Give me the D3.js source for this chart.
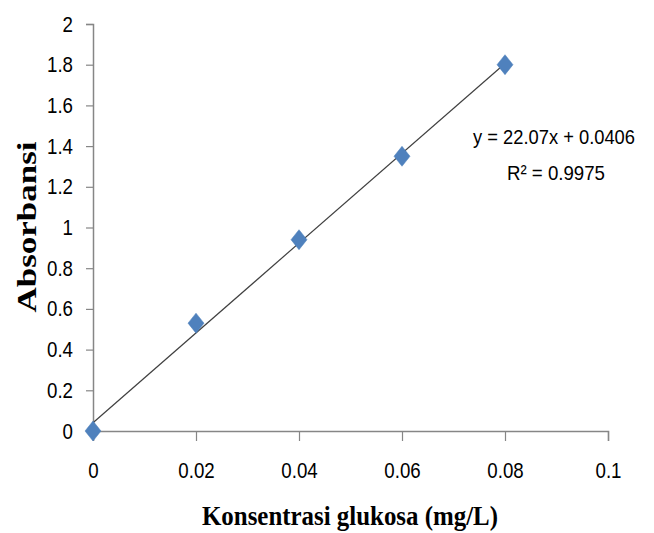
<!DOCTYPE html>
<html><head><meta charset="utf-8">
<script src="https://cdn.jsdelivr.net/npm/d3@7"></script>
<style>
body{margin:0;background:#fff;}
svg{display:block;}
.tick text{font-family:"Liberation Sans",Arimo,sans-serif;font-size:22px;fill:#000;}
</style></head><body>
<svg id="c" width="654" height="533"></svg>
<script>
const xValues = [0, 0.02, 0.04, 0.06, 0.08];
const yValues = [0, 0.53, 0.94, 1.35, 1.80];
const xTicks = [0, 0.02, 0.04, 0.06, 0.08, 0.1];
const yTicks = [0, 0.2, 0.4, 0.6, 0.8, 1, 1.2, 1.4, 1.6, 1.8, 2];
const slope = 22.07, intercept = 0.0406;
const eqText = "y = 22.07x + 0.0406";
const r2Text = "R\u00B2 = 0.9975";
const xTitle = "Konsentrasi glukosa (mg/L)";
const yTitle = "Absorbansi";

const svg = d3.select("#c");
const x = d3.scaleLinear().domain([0, 0.1]).range([93, 608]);
const y = d3.scaleLinear().domain([0, 2]).range([431, 24]);
const axisColor = "#868686";
const condense = 0.85;
function squeeze(sel) {
  sel.each(function() {
    const w = this.getComputedTextLength();
    d3.select(this).attr("textLength", w * condense).attr("lengthAdjust", "spacingAndGlyphs");
  });
}

const gx = svg.append("g").attr("transform", `translate(0,${y(0)})`)
  .call(d3.axisBottom(x).tickValues(xTicks).tickSize(10).tickFormat(d => String(+d.toFixed(2))));
const gy = svg.append("g").attr("transform", `translate(${x(0)},0)`)
  .call(d3.axisLeft(y).tickValues(yTicks).tickSize(7).tickPadding(13).tickFormat(d => String(+d.toFixed(1))));
[gx, gy].forEach(g => {
  g.select(".domain").attr("stroke", axisColor).attr("stroke-width", 1.5);
  g.selectAll(".tick line").attr("stroke", axisColor).attr("stroke-width", 1.2);
});
gx.selectAll(".tick text").attr("y", 47).attr("dy", 0);
squeeze(gx.selectAll(".tick text"));
squeeze(gy.selectAll(".tick text"));

// trendline
svg.append("line")
  .attr("x1", x(0)).attr("y1", y(intercept))
  .attr("x2", x(d3.max(xValues))).attr("y2", y(slope * d3.max(xValues) + intercept))
  .attr("stroke", "#404040").attr("stroke-width", 1.2);

// markers
const pts = xValues.map((v, i) => [v, yValues[i]]);
svg.selectAll("path.m").data(pts).enter().append("path")
  .attr("class", "m")
  .attr("d", "M0,-10 L8,0 L0,10 L-8,0 Z")
  .attr("transform", d => `translate(${x(d[0])},${y(d[1])})`)
  .attr("fill", "#4F81BD").attr("stroke", "#4A7EBB").attr("stroke-width", 0.5);

// equation
svg.append("text").attr("x", 554).attr("y", 144).attr("text-anchor", "middle")
  .attr("font-family", "Liberation Sans, sans-serif").attr("font-size", 20)
  .attr("textLength", 162).attr("lengthAdjust", "spacingAndGlyphs").text(eqText);
svg.append("text").attr("x", 556).attr("y", 180).attr("text-anchor", "middle")
  .attr("font-family", "Liberation Sans, sans-serif").attr("font-size", 21)
  .attr("textLength", 98).attr("lengthAdjust", "spacingAndGlyphs").text(r2Text);

// axis titles
svg.append("text").attr("x", 350).attr("y", 525).attr("text-anchor", "middle")
  .attr("font-family", "Liberation Serif, serif").attr("font-weight", "bold").attr("font-size", 28)
  .attr("textLength", 296).attr("lengthAdjust", "spacingAndGlyphs").text(xTitle);
svg.append("text").attr("transform", "translate(36,227) rotate(-90)").attr("text-anchor", "middle")
  .attr("font-family", "Liberation Serif, serif").attr("font-weight", "bold").attr("font-size", 27)
  .attr("textLength", 171).attr("lengthAdjust", "spacingAndGlyphs").text(yTitle);
</script></body></html>
